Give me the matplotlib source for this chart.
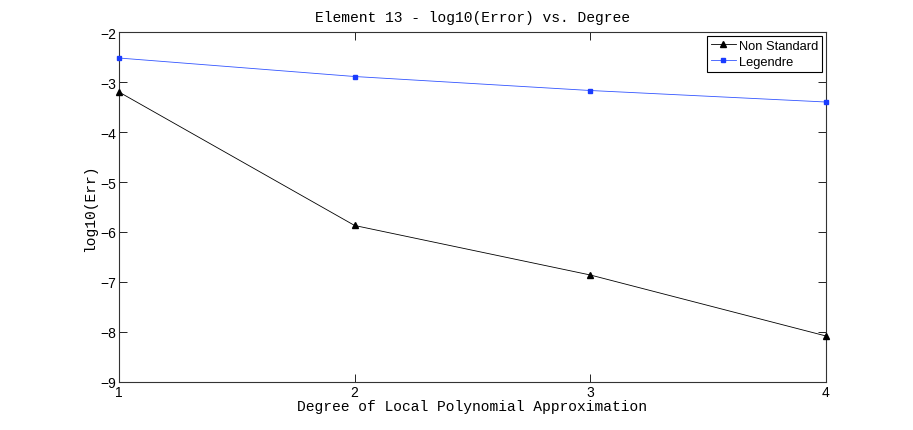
import matplotlib
matplotlib.use("Agg")
import matplotlib.pyplot as plt

degrees = [1, 2, 3, 4]
non_standard = [-3.20, -5.87, -6.86, -8.08]
legendre = [-2.52, -2.89, -3.17, -3.40]
xticks = [1, 2, 3, 4]
yticks = [-9, -8, -7, -6, -5, -4, -3, -2]

fig = plt.figure(figsize=(9.13, 4.31), dpi=100)
ax = fig.add_axes([0.1303, 0.1114, 0.7744, 0.812])

ax.plot(degrees, non_standard, color="black", lw=0.6, marker="^", ms=5,
        label="Non Standard", clip_on=False, zorder=3)
ax.plot(degrees, legendre, color="#3355ff", lw=0.6, marker="s", ms=3.5,
        markerfacecolor="#1a3cff", markeredgecolor="#1a3cff",
        label="Legendre", clip_on=False, zorder=3)

ax.set_xlim(1, 4)
ax.set_ylim(-9, -2)
ax.set_xticks(xticks)
ax.set_yticks(yticks)
ax.set_xticklabels([str(t) for t in xticks], fontfamily="Liberation Sans", fontsize=10)
ax.set_yticklabels(["\u2212%d" % abs(t) for t in yticks], fontfamily="Liberation Sans", fontsize=10)
ax.tick_params(direction="in", top=True, right=True, length=6, width=0.6, pad=2)
for s in ax.spines.values():
    s.set_linewidth(0.8)
    s.set_color("#333333")

ax.set_title("Element 13 - log10(Error) vs. Degree", fontfamily="Liberation Mono",
             fontsize=10.5, pad=8)
ax.set_xlabel("Degree of Local Polynomial Approximation", fontfamily="Liberation Mono",
              fontsize=10.5, labelpad=0)
ax.set_ylabel("log10(Err)", fontfamily="Liberation Mono", fontsize=10.5, labelpad=2)

leg = ax.legend(loc="upper right", prop={"family": "Liberation Sans", "size": 9.3},
                fancybox=False, edgecolor="black", framealpha=1, borderpad=0.3,
                handlelength=2.0, handletextpad=0.2, labelspacing=0.3,
                borderaxespad=0.3)
leg.get_frame().set_linewidth(0.8)
leg.set_zorder(5)

fig.savefig("out.png", dpi=100)
